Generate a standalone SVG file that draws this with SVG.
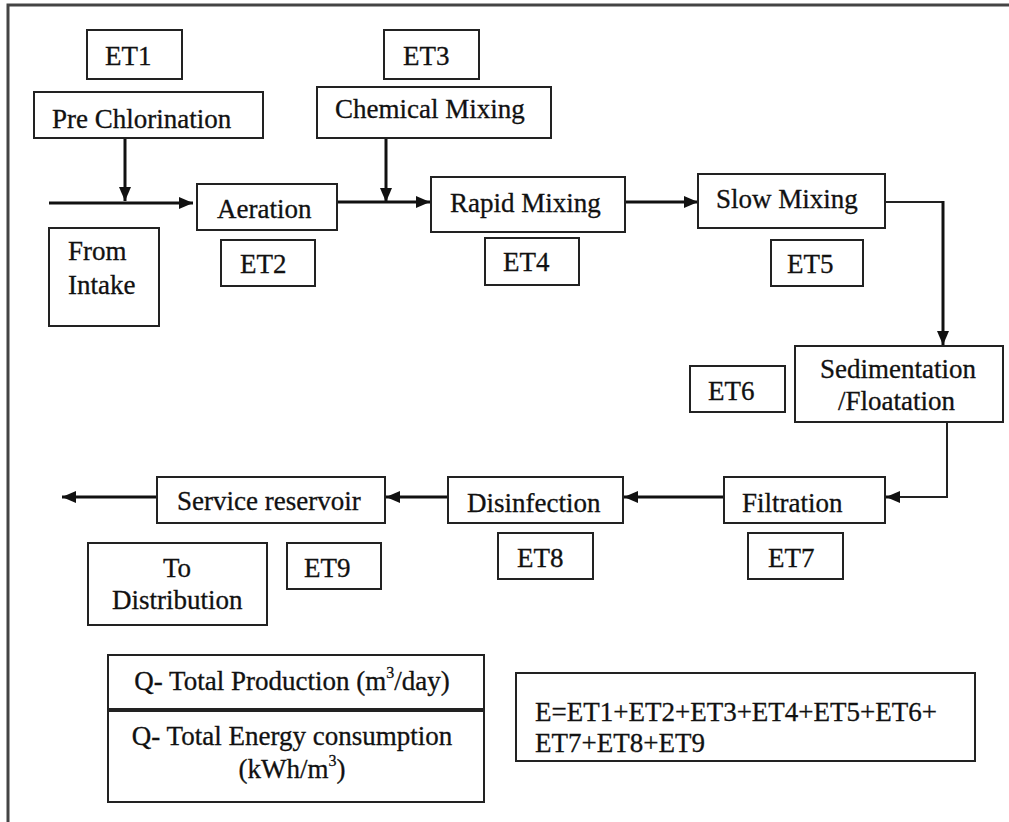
<svg xmlns="http://www.w3.org/2000/svg" width="1009" height="822" viewBox="0 0 1009 822">
  <defs>
    <marker id="arrow" markerWidth="14" markerHeight="12" refX="14" refY="6" orient="auto" markerUnits="userSpaceOnUse">
      <path d="M0,0 L14,6 L0,12 Z" fill="#111"/>
    </marker>
    <style>
      .box { fill: #fff; stroke: #222; stroke-width: 2; }
      .lbl { font-family: "Liberation Serif", "Times New Roman", serif; font-size: 27px; fill: #111; stroke: #111; stroke-width: 0.3; }
      .sup { font-size: 16px; }
      .flow { fill: none; stroke: #111; stroke-width: 3; }
      .thin { fill: none; stroke: #222; stroke-width: 2; }
      .frame { fill: none; stroke: #444; stroke-width: 3; }
    </style>
  </defs>

  <rect width="1009" height="822" fill="#fff"/>

  <!-- page frame (top and left edges) -->
  <path class="frame" d="M8,830 L8,5 L1015,5"/>

  <!-- connectors -->
  <g id="connectors">
    <line class="flow" x1="125" y1="138" x2="125" y2="201" marker-end="url(#arrow)"/>
    <line class="flow" x1="49" y1="203" x2="193" y2="203" marker-end="url(#arrow)"/>
    <line class="flow" x1="386" y1="138" x2="386" y2="202" marker-end="url(#arrow)"/>
    <line class="flow" x1="337" y1="202" x2="430" y2="202" marker-end="url(#arrow)"/>
    <line class="flow" x1="625" y1="202" x2="698" y2="202" marker-end="url(#arrow)"/>
    <path class="thin" d="M885,202 L943,202"/>
    <line class="flow" x1="943" y1="201" x2="943" y2="345" marker-end="url(#arrow)"/>
    <path class="thin" d="M947,422 L947,497 L895,497"/>
    <line class="flow" x1="900" y1="497" x2="886" y2="497" marker-end="url(#arrow)"/>
    <line class="flow" x1="724" y1="497" x2="624" y2="497" marker-end="url(#arrow)"/>
    <line class="flow" x1="448" y1="497" x2="386" y2="497" marker-end="url(#arrow)"/>
    <line class="flow" x1="157" y1="497" x2="62" y2="497" marker-end="url(#arrow)"/>
  </g>

  <g id="et1"><rect class="box" x="87" y="30" width="95" height="49"/><text class="lbl" x="105" y="65">ET1</text></g>
  <g id="pre-chlorination"><rect class="box" x="34" y="92" width="229" height="46"/><text class="lbl" x="52" y="128">Pre Chlorination</text></g>
  <g id="aeration"><rect class="box" x="197" y="184" width="140" height="46"/><text class="lbl" x="217" y="218">Aeration</text></g>
  <g id="from-intake"><rect class="box" x="49" y="228" width="110" height="98"/><text class="lbl" x="68" y="260">From</text><text class="lbl" x="68" y="294">Intake</text></g>
  <g id="et2"><rect class="box" x="221" y="240" width="94" height="46"/><text class="lbl" x="240" y="273">ET2</text></g>

  <g id="et3"><rect class="box" x="384" y="30" width="95" height="49"/><text class="lbl" x="403" y="65">ET3</text></g>
  <g id="chemical-mixing"><rect class="box" x="317" y="87" width="234" height="51"/><text class="lbl" x="335" y="118">Chemical Mixing</text></g>
  <g id="rapid-mixing"><rect class="box" x="431" y="177" width="194" height="55"/><text class="lbl" x="450" y="212">Rapid Mixing</text></g>
  <g id="et4"><rect class="box" x="485" y="238" width="94" height="47"/><text class="lbl" x="503" y="271">ET4</text></g>

  <g id="slow-mixing"><rect class="box" x="698" y="174" width="187" height="54"/><text class="lbl" x="716" y="208">Slow Mixing</text></g>
  <g id="et5"><rect class="box" x="771" y="240" width="92" height="46"/><text class="lbl" x="787" y="273">ET5</text></g>

  <g id="sedimentation"><rect class="box" x="795" y="346" width="208" height="76"/><text class="lbl" x="820" y="378">Sedimentation</text><text class="lbl" x="838" y="410">/Floatation</text></g>
  <g id="et6"><rect class="box" x="690" y="366" width="95" height="46"/><text class="lbl" x="708" y="400">ET6</text></g>

  <g id="filtration"><rect class="box" x="724" y="477" width="161" height="46"/><text class="lbl" x="742" y="512">Filtration</text></g>
  <g id="et7"><rect class="box" x="748" y="533" width="95" height="46"/><text class="lbl" x="768" y="567">ET7</text></g>

  <g id="disinfection"><rect class="box" x="448" y="477" width="175" height="46"/><text class="lbl" x="467" y="512">Disinfection</text></g>
  <g id="et8"><rect class="box" x="498" y="533" width="95" height="46"/><text class="lbl" x="517" y="567">ET8</text></g>

  <g id="service-reservoir"><rect class="box" x="157" y="477" width="228" height="46"/><text class="lbl" x="177" y="510">Service reservoir</text></g>
  <g id="to-distribution"><rect class="box" x="88" y="543" width="179" height="82"/><text class="lbl" x="163" y="577">To</text><text class="lbl" x="112" y="609">Distribution</text></g>
  <g id="et9"><rect class="box" x="287" y="543" width="94" height="46"/><text class="lbl" x="304" y="577">ET9</text></g>

  <g id="totals">
    <rect class="box" x="108" y="655" width="376" height="147"/>
    <line x1="108" y1="710" x2="484" y2="710" stroke="#222" stroke-width="4"/>
    <text class="lbl" x="292" y="690" text-anchor="middle">Q- Total Production (m<tspan class="sup" dy="-12">3</tspan><tspan dy="12">/day)</tspan></text>
    <text class="lbl" x="292" y="745" text-anchor="middle">Q- Total Energy consumption</text>
    <text class="lbl" x="292" y="778" text-anchor="middle">(kWh/m<tspan class="sup" dy="-12">3</tspan><tspan dy="12">)</tspan></text>
  </g>

  <g id="energy-sum">
    <rect class="box" x="516" y="673" width="459" height="88"/>
    <text class="lbl" x="535" y="721">E=ET1+ET2+ET3+ET4+ET5+ET6+</text>
    <text class="lbl" x="535" y="752">ET7+ET8+ET9</text>
  </g>
</svg>
